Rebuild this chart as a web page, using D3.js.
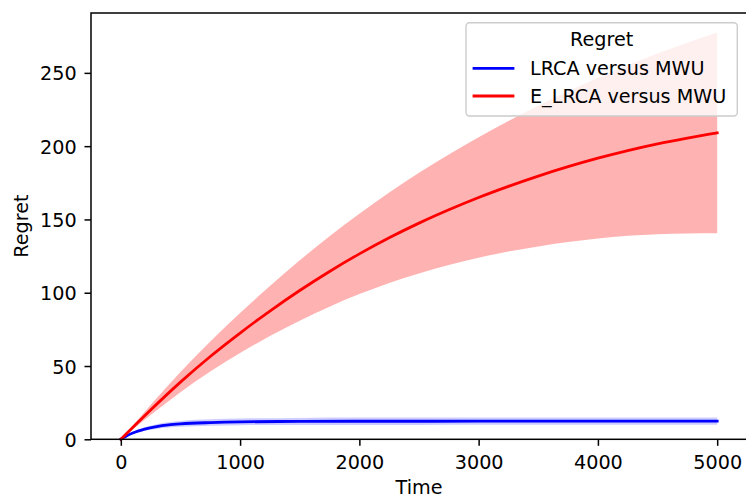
<!DOCTYPE html>
<html>
<head>
<meta charset="utf-8">
<script src="https://cdn.jsdelivr.net/npm/d3@7"></script>
<style>
  html, body { margin: 0; padding: 0; background: #fff; }
  svg { display: block; font-family: "DejaVu Sans", sans-serif; }
</style>
</head>
<body>
<svg id="chart" width="746" height="500"></svg>
<script>
// ---- data ----
const redT     = [0, 250, 500, 750, 1000, 1250, 1500, 1750, 2000, 2250, 2500, 2750, 3000, 3250, 3500, 3750, 4000, 4250, 4500, 4750, 5000];
const redMean  = [0, 20, 39, 56.5, 72.5, 87.5, 101.5, 114.5, 126.5, 137.5, 147.5, 156.6, 165, 172.6, 179.6, 186, 191.8, 197, 201.6, 205.5, 209];
const redUpper = [0, 23.4, 45.9, 66.8, 86.2, 104.6, 122.1, 138.5, 153.9, 168.3, 181.8, 194.3, 206.1, 217.1, 227.6, 237.4, 246.6, 255.2, 263.3, 270.6, 277.5];
const redLower = [0, 16.6, 32.1, 46.2, 58.8, 70.4, 80.9, 90.5, 99.1, 106.7, 113.2, 118.9, 123.9, 128.1, 131.6, 134.6, 137, 138.8, 139.9, 140.4, 140.5];

const blueT     = [0, 50, 100, 150, 200, 300, 400, 500, 750, 1000, 1500, 2000, 2500, 3000, 3500, 4000, 4500, 5000];
const blueMean  = [0, 2.4, 4.3, 5.8, 7.0, 8.7, 9.8, 10.5, 11.4, 11.9, 12.2, 12.3, 12.3, 12.4, 12.4, 12.4, 12.4, 12.4];
const blueUpper = [0, 2.8, 5.0, 6.8, 8.2, 10.3, 11.6, 12.5, 13.6, 14.2, 14.6, 14.8, 14.8, 14.9, 14.9, 14.9, 14.9, 14.9];
const blueLower = [0, 2.0, 3.6, 4.8, 5.8, 7.1, 8.0, 8.5, 9.2, 9.6, 9.8, 9.8, 9.8, 9.9, 9.9, 9.9, 9.9, 9.9];

const xTicks = [0, 1000, 2000, 3000, 4000, 5000];
const yTicks = [0, 50, 100, 150, 200, 250];
const seriesNames = ["LRCA versus MWU", "E_LRCA versus MWU"];
const seriesColors = ["#0000ff", "#ff0000"];
const legendTitle = "Regret";
const xLabel = "Time";
const yLabel = "Regret";

// ---- layout ----
const L = 91, R = 747, T = 13, B = 439.3;
const FS = 19.2;
const svg = d3.select("#chart");

const x = d3.scaleLinear().domain([-250, 5250]).range([L, R]);
const y = d3.scaleLinear().domain([0, 290.85]).range([B, T]);

function rows(t, m, u, l) { return t.map((v, i) => ({t: v, m: m[i], u: u[i], l: l[i]})); }
const red = rows(redT, redMean, redUpper, redLower);
const blue = rows(blueT, blueMean, blueUpper, blueLower);

const area = d3.area().x(d => x(d.t)).y0(d => y(d.l)).y1(d => y(d.u)).curve(d3.curveMonotoneX);
const line = d3.line().x(d => x(d.t)).y(d => y(d.m)).curve(d3.curveMonotoneX);

// blue
svg.append("path").datum(blue).attr("d", area).attr("fill", seriesColors[0]).attr("fill-opacity", 0.2);
svg.append("path").datum(blue).attr("d", line).attr("fill", "none").attr("stroke", seriesColors[0])
  .attr("stroke-width", 2.8).attr("stroke-linecap", "square").attr("stroke-linejoin", "round");
// red
svg.append("path").datum(red).attr("d", area).attr("fill", seriesColors[1]).attr("fill-opacity", 0.3);
svg.append("path").datum(red).attr("d", line).attr("fill", "none").attr("stroke", seriesColors[1])
  .attr("stroke-width", 2.8).attr("stroke-linecap", "square").attr("stroke-linejoin", "round");

// axes
const xAxis = d3.axisBottom(x).tickValues(xTicks).tickFormat(d3.format("d")).tickSizeInner(6.5).tickSizeOuter(0).tickPadding(6.5);
const yAxis = d3.axisLeft(y).tickValues(yTicks).tickFormat(d3.format("d")).tickSizeInner(6.5).tickSizeOuter(0).tickPadding(6.5);

const gx = svg.append("g").attr("transform", `translate(0,${B})`).call(xAxis);
const gy = svg.append("g").attr("transform", `translate(${L},0)`).call(yAxis);
[gx, gy].forEach(g => {
  g.select(".domain").remove();
  g.selectAll(".tick line").attr("stroke", "#000").attr("stroke-width", 1.5);
  g.selectAll(".tick text").attr("fill", "#000").attr("font-size", FS).attr("font-family", "DejaVu Sans");
});
gx.selectAll(".tick text").attr("dy", null).attr("transform", null)
  .attr("y", 469.5 - B).attr("dominant-baseline", "alphabetic");
gy.selectAll(".tick text").attr("dy", null).attr("x", 76.7 - L).attr("y", 7);

// spines
svg.append("rect").attr("x", L).attr("y", T).attr("width", R - L).attr("height", B - T)
  .attr("fill", "none").attr("stroke", "#000").attr("stroke-width", 1.5);

// axis labels
svg.append("text").attr("x", (L + R) / 2).attr("y", 494).attr("text-anchor", "middle")
  .attr("font-size", FS).attr("fill", "#000").text(xLabel);
svg.append("text").attr("transform", `translate(28,${(T + B) / 2}) rotate(-90)`).attr("text-anchor", "middle")
  .attr("font-size", FS).attr("fill", "#000").text(yLabel);

// legend
const lg = svg.append("g");
lg.append("rect").attr("x", 466).attr("y", 22.7).attr("width", 271.3).attr("height", 93.3)
  .attr("rx", 3.5).attr("ry", 3.5).attr("fill", "#fff").attr("fill-opacity", 0.8)
  .attr("stroke", "#cccccc").attr("stroke-width", 1.4);
lg.append("text").attr("x", 601.7).attr("y", 46).attr("text-anchor", "middle")
  .attr("font-size", FS).attr("fill", "#000").text(legendTitle);
const entryY = [68.3, 96];
seriesNames.forEach((name, i) => {
  lg.append("line").attr("x1", 474).attr("x2", 513).attr("y1", entryY[i]).attr("y2", entryY[i])
    .attr("stroke", seriesColors[i]).attr("stroke-width", 2.8).attr("stroke-linecap", "square");
  lg.append("text").attr("x", 530).attr("y", entryY[i] + 6.8).attr("font-size", FS).attr("fill", "#000").text(name);
});
</script>
</body>
</html>
